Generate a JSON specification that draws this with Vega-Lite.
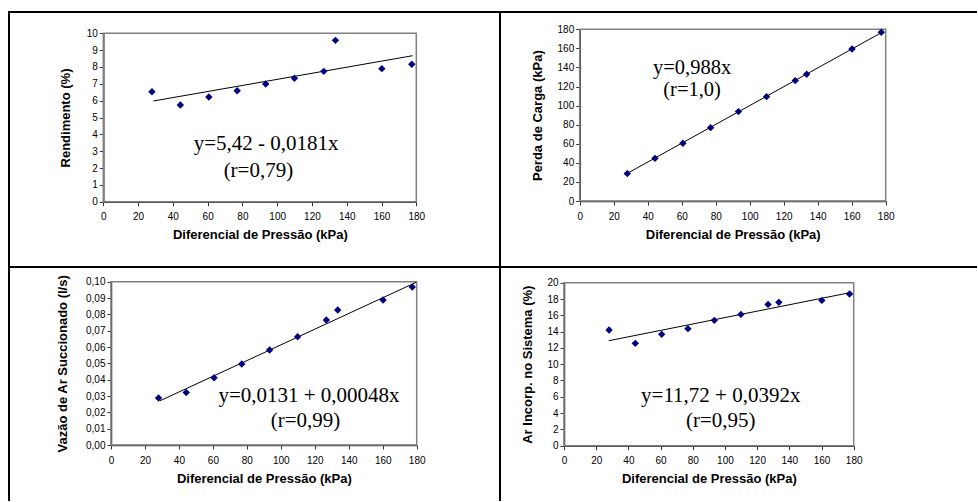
{
  "$schema": "https://vega.github.io/schema/vega-lite/v6.json",
  "padding": {"left": 8, "top": 11, "right": 0, "bottom": 0},
  "background": "white",
  "datasets": {
    "points": [
      {"x": 28.0, "rend": 6.53, "perda": 28.7, "vazao": 0.0288, "ar": 14.19},
      {"x": 44.3, "rend": 5.74, "perda": 44.7, "vazao": 0.0322, "ar": 12.56},
      {"x": 60.7, "rend": 6.22, "perda": 60.5, "vazao": 0.0412, "ar": 13.66},
      {"x": 77.0, "rend": 6.59, "perda": 76.9, "vazao": 0.0496, "ar": 14.36},
      {"x": 93.4, "rend": 6.99, "perda": 93.7, "vazao": 0.0582, "ar": 15.38},
      {"x": 109.9, "rend": 7.33, "perda": 109.4, "vazao": 0.0663, "ar": 16.11},
      {"x": 126.8, "rend": 7.74, "perda": 126.2, "vazao": 0.0765, "ar": 17.34},
      {"x": 133.5, "rend": 9.58, "perda": 132.8, "vazao": 0.0827, "ar": 17.59},
      {"x": 160.2, "rend": 7.90, "perda": 159.4, "vazao": 0.0888, "ar": 17.83},
      {"x": 177.4, "rend": 8.16, "perda": 176.9, "vazao": 0.0967, "ar": 18.61}
    ],
    "fits": [
      {"panel": "rend", "x": 28.8, "y": 5.98},
      {"panel": "rend", "x": 177.9, "y": 8.67},
      {"panel": "perda", "x": 26.5, "y": 27.5},
      {"panel": "perda", "x": 178.5, "y": 177.5},
      {"panel": "vazao", "x": 28.9, "y": 0.0271},
      {"panel": "vazao", "x": 179.6, "y": 0.0996},
      {"panel": "ar", "x": 27.8, "y": 12.88},
      {"panel": "ar", "x": 178.5, "y": 18.81}
    ]
  },
  "config": {
    "view": {"stroke": "black", "strokeWidth": 2},
    "axis": {
      "grid": false,
      "domainColor": "#333333",
      "domainWidth": 1.5,
      "tickColor": "#333333",
      "tickSize": 4,
      "tickCount": 30,
      "labelFont": "Liberation Sans",
      "labelFontSize": 10,
      "labelColor": "black",
      "titleFont": "Liberation Sans",
      "titleFontSize": 13,
      "titleFontWeight": "bold",
      "titleColor": "black",
      "labelOverlap": false,
      "labelFlush": false,
      "labelBound": false,
      "zindex": 1
    },
    "axisX": {"labelPadding": 6, "titlePadding": 7},
    "axisY": {"labelPadding": 2}
  },
  "columns": 2,
  "spacing": 0,
  "bounds": "flush",
  "concat": [
    {
      "width": 491,
      "height": 255,
      "view": {"stroke": "black", "strokeWidth": 2},
      "layer": [
        {
          "data": {"values": [{}]},
          "mark": {"type": "rect", "filled": false, "stroke": "#808080", "strokeWidth": 1.5},
          "encoding": {
            "x": {"datum": 0, "type": "quantitative", "title": "Diferencial de Pressão (kPa)",
              "scale": {"domain": [0, 180], "range": [94.3, 407.3], "nice": false, "zero": false},
              "axis": {"offset": -65.3, "values": [0, 20, 40, 60, 80, 100, 120, 140, 160, 180], "tickCount": 30}},
            "x2": {"datum": 180},
            "y": {"datum": 0, "type": "quantitative", "title": "Rendimento (%)",
              "scale": {"domain": [0, 10], "range": [189.7, 21.3], "nice": false, "zero": false},
              "axis": {"offset": -94.3, "values": [0, 1, 2, 3, 4, 5, 6, 7, 8, 9, 10], "tickCount": 30, "format": "d", "titlePadding": 14}},
            "y2": {"datum": 10}
          }
        },
        {
          "data": {"name": "fits"},
          "transform": [{"filter": "datum.panel === 'rend'"}],
          "mark": {"type": "line", "color": "black", "strokeWidth": 1},
          "encoding": {
            "x": {"field": "x", "type": "quantitative", "title": "Diferencial de Pressão (kPa)"},
            "y": {"field": "y", "type": "quantitative", "title": "Rendimento (%)"}
          }
        },
        {
          "data": {"name": "points"},
          "mark": {"type": "point", "shape": "diamond", "filled": true, "color": "#000080", "size": 55, "opacity": 1},
          "encoding": {
            "x": {"field": "x", "type": "quantitative", "title": "Diferencial de Pressão (kPa)"},
            "y": {"field": "rend", "type": "quantitative", "title": "Rendimento (%)"}
          }
        },
        {
          "data": {"values": [{}]},
          "mark": {"type": "text", "font": "Liberation Serif", "fontSize": 21, "align": "center", "baseline": "alphabetic", "color": "black", "text": "y=5,42 - 0,0181x"},
          "encoding": {
            "x": {"datum": 93.6, "type": "quantitative"},
            "y": {"datum": 3.07, "type": "quantitative"}
          }
        },
        {
          "data": {"values": [{}]},
          "mark": {"type": "text", "font": "Liberation Serif", "fontSize": 21, "align": "center", "baseline": "alphabetic", "color": "black", "text": "(r=0,79)"},
          "encoding": {
            "x": {"datum": 89.2, "type": "quantitative"},
            "y": {"datum": 1.48, "type": "quantitative"}
          }
        }
      ]
    },
    {
      "width": 477,
      "height": 255,
      "view": {"stroke": "black", "strokeWidth": 2, "strokeDash": [477, 255, 732, 0]},
      "layer": [
        {
          "data": {"values": [{}]},
          "mark": {"type": "rect", "filled": false, "stroke": "#808080", "strokeWidth": 1.5},
          "encoding": {
            "x": {"datum": 0, "type": "quantitative", "title": "Diferencial de Pressão (kPa)",
              "scale": {"domain": [0, 180], "range": [79.7, 385.7], "nice": false, "zero": false},
              "axis": {"offset": -66, "values": [0, 20, 40, 60, 80, 100, 120, 140, 160, 180], "tickCount": 30}},
            "x2": {"datum": 180},
            "y": {"datum": 0, "type": "quantitative", "title": "Perda de Carga (kPa)",
              "scale": {"domain": [0, 180], "range": [189, 17.3], "nice": false, "zero": false},
              "axis": {"offset": -79.7, "values": [0, 20, 40, 60, 80, 100, 120, 140, 160, 180], "tickCount": 30, "format": "d", "titlePadding": 12.5}},
            "y2": {"datum": 180}
          }
        },
        {
          "data": {"name": "fits"},
          "transform": [{"filter": "datum.panel === 'perda'"}],
          "mark": {"type": "line", "color": "black", "strokeWidth": 1},
          "encoding": {
            "x": {"field": "x", "type": "quantitative", "title": "Diferencial de Pressão (kPa)"},
            "y": {"field": "y", "type": "quantitative", "title": "Perda de Carga (kPa)"}
          }
        },
        {
          "data": {"name": "points"},
          "mark": {"type": "point", "shape": "diamond", "filled": true, "color": "#000080", "size": 55, "opacity": 1},
          "encoding": {
            "x": {"field": "x", "type": "quantitative", "title": "Diferencial de Pressão (kPa)"},
            "y": {"field": "perda", "type": "quantitative", "title": "Perda de Carga (kPa)"}
          }
        },
        {
          "data": {"values": [{}]},
          "mark": {"type": "text", "font": "Liberation Serif", "fontSize": 20.5, "align": "center", "baseline": "alphabetic", "color": "black", "text": "y=0,988x"},
          "encoding": {
            "x": {"datum": 66.1, "type": "quantitative"},
            "y": {"datum": 133, "type": "quantitative"}
          }
        },
        {
          "data": {"values": [{}]},
          "mark": {"type": "text", "font": "Liberation Serif", "fontSize": 20.5, "align": "center", "baseline": "alphabetic", "color": "black", "text": "(r=1,0)"},
          "encoding": {
            "x": {"datum": 66.1, "type": "quantitative"},
            "y": {"datum": 110, "type": "quantitative"}
          }
        }
      ]
    },
    {
      "width": 491,
      "height": 234,
      "view": {"stroke": "black", "strokeWidth": 2, "strokeDash": [725, 491, 234, 0]},
      "layer": [
        {
          "data": {"values": [{}]},
          "mark": {"type": "rect", "filled": false, "stroke": "#808080", "strokeWidth": 1.5},
          "encoding": {
            "x": {"datum": 0, "type": "quantitative", "title": "Diferencial de Pressão (kPa)",
              "scale": {"domain": [0, 180], "range": [102, 407.7], "nice": false, "zero": false},
              "axis": {"offset": -56, "values": [0, 20, 40, 60, 80, 100, 120, 140, 160, 180], "tickCount": 30}},
            "x2": {"datum": 180},
            "y": {"datum": 0, "type": "quantitative", "title": "Vazão de Ar Succionado (l/s)",
              "scale": {"domain": [0, 0.1], "range": [178, 14.7], "nice": false, "zero": false},
              "axis": {"offset": -102, "values": [0, 0.01, 0.02, 0.03, 0.04, 0.05, 0.06, 0.07, 0.08, 0.09, 0.1], "tickCount": 30, "labelExpr": "replace(format(datum.value, '.2f'), '.', ',')", "titlePadding": 16}},
            "y2": {"datum": 0.1}
          }
        },
        {
          "data": {"name": "fits"},
          "transform": [{"filter": "datum.panel === 'vazao'"}],
          "mark": {"type": "line", "color": "black", "strokeWidth": 1},
          "encoding": {
            "x": {"field": "x", "type": "quantitative", "title": "Diferencial de Pressão (kPa)"},
            "y": {"field": "y", "type": "quantitative", "title": "Vazão de Ar Succionado (l/s)"}
          }
        },
        {
          "data": {"name": "points"},
          "mark": {"type": "point", "shape": "diamond", "filled": true, "color": "#000080", "size": 55, "opacity": 1},
          "encoding": {
            "x": {"field": "x", "type": "quantitative", "title": "Diferencial de Pressão (kPa)"},
            "y": {"field": "vazao", "type": "quantitative", "title": "Vazão de Ar Succionado (l/s)"}
          }
        },
        {
          "data": {"values": [{}]},
          "mark": {"type": "text", "font": "Liberation Serif", "fontSize": 21, "align": "center", "baseline": "alphabetic", "color": "black", "text": "y=0,0131 + 0,00048x"},
          "encoding": {
            "x": {"datum": 116.6, "type": "quantitative"},
            "y": {"datum": 0.0265, "type": "quantitative"}
          }
        },
        {
          "data": {"values": [{}]},
          "mark": {"type": "text", "font": "Liberation Serif", "fontSize": 21, "align": "center", "baseline": "alphabetic", "color": "black", "text": "(r=0,99)"},
          "encoding": {
            "x": {"datum": 114.5, "type": "quantitative"},
            "y": {"datum": 0.0112, "type": "quantitative"}
          }
        }
      ]
    },
    {
      "width": 477,
      "height": 234,
      "view": {"stroke": "black", "strokeWidth": 2, "strokeDash": [477, 711, 234, 0]},
      "layer": [
        {
          "data": {"values": [{}]},
          "mark": {"type": "rect", "filled": false, "stroke": "#808080", "strokeWidth": 1.5},
          "encoding": {
            "x": {"datum": 0, "type": "quantitative", "title": "Diferencial de Pressão (kPa)",
              "scale": {"domain": [0, 180], "range": [64, 353.7], "nice": false, "zero": false},
              "axis": {"offset": -55.3, "values": [0, 20, 40, 60, 80, 100, 120, 140, 160, 180], "tickCount": 30}},
            "x2": {"datum": 180},
            "y": {"datum": 0, "type": "quantitative", "title": "Ar Incorp. no Sistema (%)",
              "scale": {"domain": [0, 20], "range": [178.7, 15.7], "nice": false, "zero": false},
              "axis": {"offset": -64, "values": [0, 2, 4, 6, 8, 10, 12, 14, 16, 18, 20], "tickCount": 30, "format": "d", "titlePadding": 12.5}},
            "y2": {"datum": 20}
          }
        },
        {
          "data": {"name": "fits"},
          "transform": [{"filter": "datum.panel === 'ar'"}],
          "mark": {"type": "line", "color": "black", "strokeWidth": 1},
          "encoding": {
            "x": {"field": "x", "type": "quantitative", "title": "Diferencial de Pressão (kPa)"},
            "y": {"field": "y", "type": "quantitative", "title": "Ar Incorp. no Sistema (%)"}
          }
        },
        {
          "data": {"name": "points"},
          "mark": {"type": "point", "shape": "diamond", "filled": true, "color": "#000080", "size": 55, "opacity": 1},
          "encoding": {
            "x": {"field": "x", "type": "quantitative", "title": "Diferencial de Pressão (kPa)"},
            "y": {"field": "ar", "type": "quantitative", "title": "Ar Incorp. no Sistema (%)"}
          }
        },
        {
          "data": {"values": [{}]},
          "mark": {"type": "text", "font": "Liberation Serif", "fontSize": 21, "align": "center", "baseline": "alphabetic", "color": "black", "text": "y=11,72 + 0,0392x"},
          "encoding": {
            "x": {"datum": 97.4, "type": "quantitative"},
            "y": {"datum": 5.4, "type": "quantitative"}
          }
        },
        {
          "data": {"values": [{}]},
          "mark": {"type": "text", "font": "Liberation Serif", "fontSize": 21, "align": "center", "baseline": "alphabetic", "color": "black", "text": "(r=0,95)"},
          "encoding": {
            "x": {"datum": 97.4, "type": "quantitative"},
            "y": {"datum": 2.33, "type": "quantitative"}
          }
        }
      ]
    }
  ]
}
